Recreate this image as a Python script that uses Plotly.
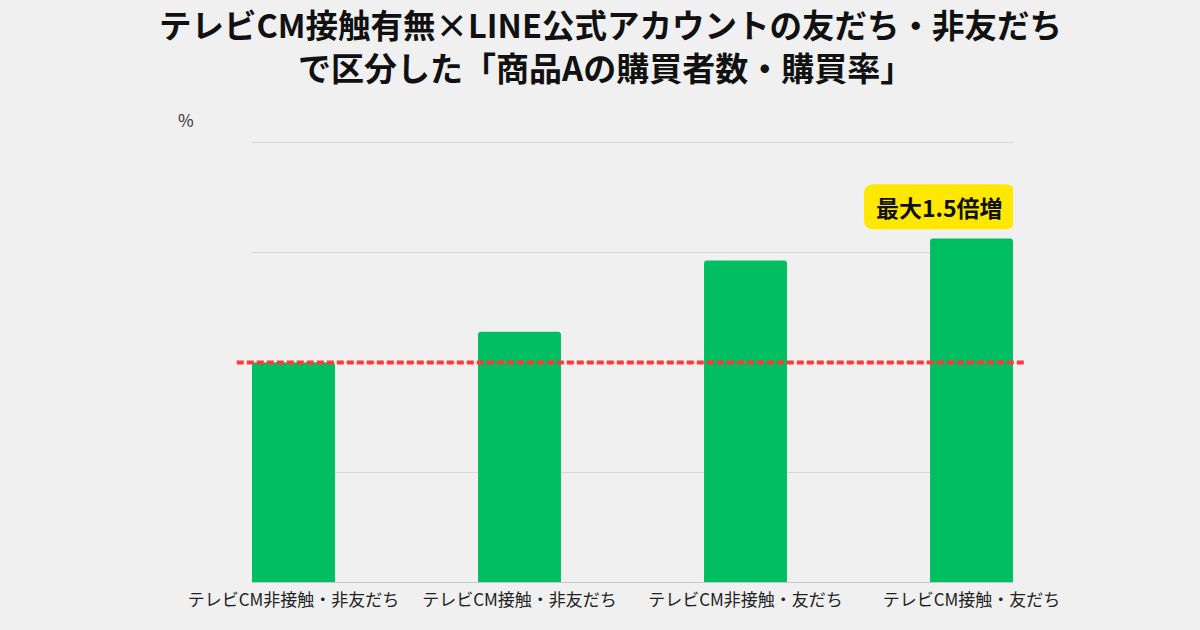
import plotly.graph_objects as go

categories = ["テレビCM非接触・非友だち", "テレビCM接触・非友だち", "テレビCM非接触・友だち", "テレビCM接触・友だち"]
values = [2.0, 2.28, 2.93, 3.13]
baseline_value = values[0]
y_ticks = [0, 1, 2, 3, 4]
badge_text = "最大1.5倍増"
title_line1 = "テレビCM接触有無×LINE公式アカウントの友だち・非友だち"
title_line2 = "で区分した「商品Aの購買者数・購買率」"

FONT = "Noto Sans CJK JP"
BG = "#f0f0f0"

x_idx = list(range(len(categories)))

fig = go.Figure()
fig.add_trace(go.Bar(
    x=x_idx, y=values, width=0.367,
    marker=dict(color="#00bf63", line=dict(width=0)),
    hoverinfo="skip",
))

# baseline dashed line
fig.add_shape(type="line", xref="paper", yref="y",
              x0=-0.02, x1=1.016, y0=baseline_value, y1=baseline_value,
              line=dict(color="#ff3838", width=4, dash="7px,3px"), layer="above")

# rounded yellow badge
w, h, r = 151, 45, 10
hw, hh = w / 2, h / 2
path = (f"M {-hw + r},{-hh} L {hw - r},{-hh} Q {hw},{-hh} {hw},{-hh + r} "
        f"L {hw},{hh - r} Q {hw},{hh} {hw - r},{hh} L {-hw + r},{hh} "
        f"Q {-hw},{hh} {-hw},{hh - r} L {-hw},{-hh + r} Q {-hw},{-hh} {-hw + r},{-hh} Z")
badge_x = x_idx[-1] - 0.142
badge_y = values[-1] + 0.29
fig.add_shape(type="path", xref="x", yref="y", xsizemode="pixel", ysizemode="pixel",
              xanchor=badge_x, yanchor=badge_y, path=path,
              fillcolor="#ffe800", line=dict(width=0), layer="above")
fig.add_annotation(x=badge_x, y=badge_y, xref="x", yref="y", text=f"<b>{badge_text}</b>",
                   showarrow=False, font=dict(family=FONT, size=23, color="#111111"))

# title (two lines)
fig.add_annotation(x=0.4717, y=1.2422, xref="paper", yref="paper", text=f"<b>{title_line1}</b>",
                   showarrow=False, xanchor="center", yanchor="middle",
                   font=dict(family=FONT, size=32.5, color="#111111"))
fig.add_annotation(x=0.4639, y=1.1444, xref="paper", yref="paper", text=f"<b>{title_line2}</b>",
                   showarrow=False, xanchor="center", yanchor="middle",
                   font=dict(family=FONT, size=33, color="#111111"))

# % unit label
fig.add_annotation(x=-0.0867, y=1.0267, xref="paper", yref="paper", text="%",
                   showarrow=False, xanchor="center", yanchor="middle",
                   font=dict(family=FONT, size=17, color="#333333"))

fig.update_layout(
    width=1200, height=630,
    paper_bgcolor=BG, plot_bgcolor=BG,
    margin=dict(l=252, r=187, t=132, b=48),
    showlegend=False,
    barcornerradius=3,
    font=dict(family=FONT),
    xaxis=dict(tickmode="array", tickvals=x_idx, ticktext=categories,
               range=[-0.1836, 3.1836], showgrid=False, zeroline=False,
               showline=False, ticks="", ticklabelstandoff=6,
               tickfont=dict(size=17, color="#222222")),
    yaxis=dict(range=[0, 4.1], tickvals=y_ticks, showticklabels=False,
               showgrid=True, gridcolor="#d6d6d6", gridwidth=1,
               zeroline=True, zerolinecolor="#c8c8c8", zerolinewidth=1, showline=False),
)

fig.write_html("out.html")
